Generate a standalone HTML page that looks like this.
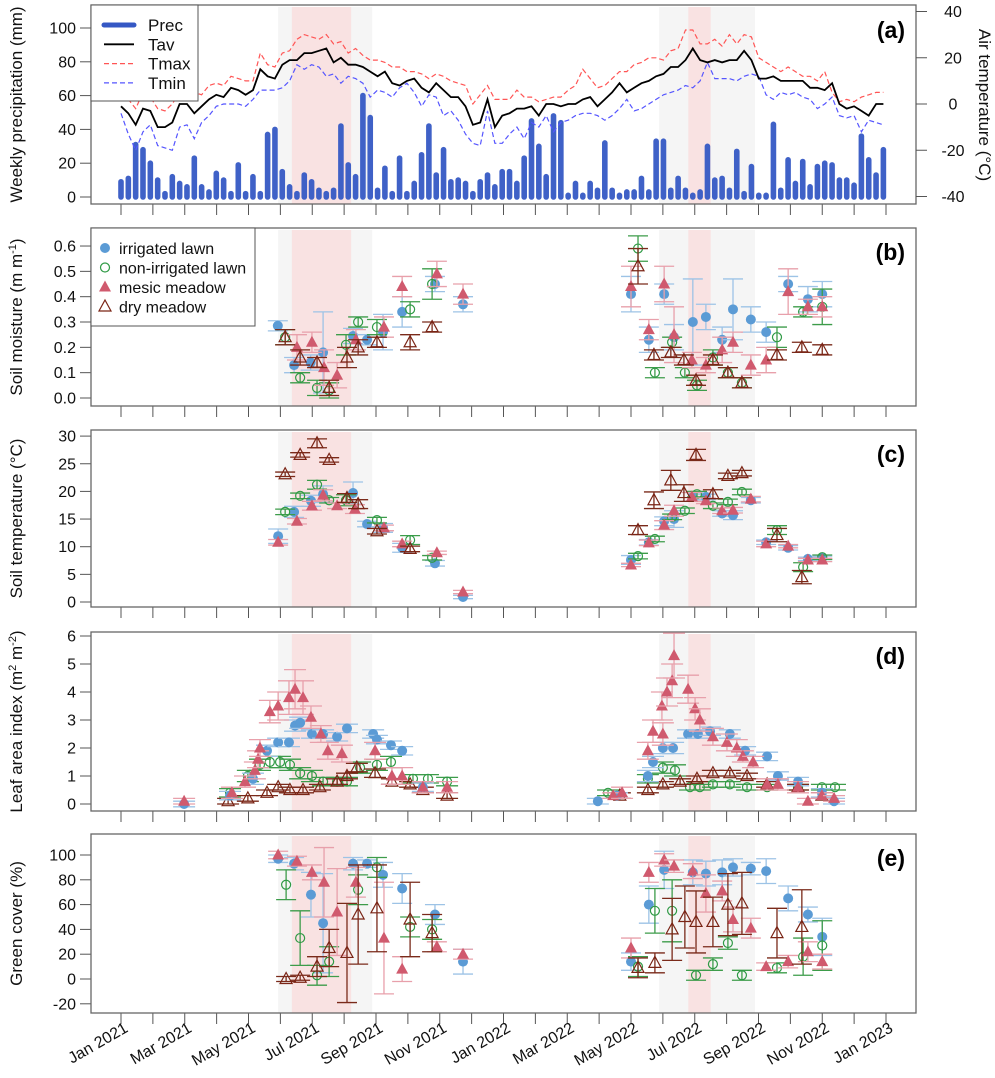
<!DOCTYPE html>
<html><head><meta charset="utf-8"><style>
html,body{margin:0;padding:0;background:#fff;}
svg{display:block;font-family:"Liberation Sans",Arial,sans-serif;}
</style></head><body>
<svg id="chart" width="995" height="1078" viewBox="0 0 995 1078" xmlns="http://www.w3.org/2000/svg"></svg>
<script>
// ---------- data ----------
const monthLabels=["Jan 2021","Mar 2021","May 2021","Jul 2021","Sep 2021","Nov 2021","Jan 2022","Mar 2022","May 2022","Jul 2022","Sep 2022","Nov 2022","Jan 2023"];
const precip=[9,11,31,28,20,10,2,12,8,6,23,6,3,14,10,2,19,2,12,2,37,40,15,6,2,13,9,4,2,4,42,19,12,60,47,4,17,2,23,2,8,25,42,13,28,9,10,8,2,9,13,6,15,
15,8,23,45,30,12,48,44,1,8,1,8,4,32,4,1,3,3,11,3,33,33,4,11,4,1,3,30,10,11,4,27,2,18,1,1,43,4,22,8,21,6,18,20,19,10,10,7,36,22,13,28];
const tav=[-1,-4,-9,-2,-3,-10,-10,-8,0,0,-4,-1,2,4,3,7,6,4,6,15,12,11,17,19,19,22,22,23,24,18,20,17,17,16,14,12,14,9,8,10,11,7,5,9,6,3,3,-1,-9,-8,2,-10,
-5,-4,-2,-2,-1,-5,0,0,-1,0,0,2,3,-1,2,5,9,5,7,9,10,12,13,16,16,19,24,19,18,19,18,19,19,23,19,11,11,12,10,10,10,10,7,7,6,9,0,-2,-1,-3,-5,0,0];
const tmax=[4,2,-2,5,3,-2,-3,0,5,6,5,4,8,9,8,12,11,10,10,22,17,16,22,23,28,30,29,28,30,26,27,22,24,21,19,19,18,16,16,14,14,13,11,13,12,10,9,8,0,4,8,2,
2,2,6,3,3,1,2,3,3,6,8,15,11,7,8,11,14,14,17,18,20,20,19,23,24,32,32,26,26,28,25,30,26,30,29,20,18,16,14,16,14,12,12,10,14,5,1,2,1,3,4,5,5];
const tmin=[-4,-13,-20,-12,-9,-18,-19,-20,-10,-9,-15,-8,-5,-1,0,0,0,-1,2,6,6,6,7,10,17,15,17,16,12,13,9,12,11,9,3,6,5,3,7,9,5,-1,4,3,-5,-3,-7,-13,-17,-18,-3,-17,
-17,-13,-10,-15,-8,-10,-5,-12,-8,-7,-5,-4,-4,-5,-7,-5,-2,2,-3,-2,0,2,4,5,6,8,7,10,18,11,11,11,10,12,13,12,4,2,5,4,5,3,2,-2,0,3,-5,-6,-5,-12,-7,-8,-9];

// panel b soil moisture
const bIrrX=[4.92,5.43,5.95,6.34,7.28,7.72,8.22,8.82,9.85,10.73,16.0,16.56,17.04,17.35,17.94,18.35,18.86,19.2,19.76,20.24,20.93,21.55,22.0];
const bIrrY=[.285,.13,.14,.18,.245,.23,.26,.34,.45,.37,.41,.23,.41,.24,.30,.32,.23,.35,.31,.26,.45,.39,.41];
const bIrrE=[.02,.03,.03,.16,.03,.02,.07,.06,.03,.03,.07,.05,.04,.05,.17,.05,.05,.12,.05,.04,.03,.05,.05];
const bNonX=[5.15,5.62,6.15,6.53,7.06,7.44,8.03,9.07,9.76,16.22,16.75,17.29,17.69,18.07,18.57,19.04,19.48,20.58,21.4,22.0];
const bNonY=[.24,.08,.04,.03,.21,.30,.28,.35,.45,.59,.10,.22,.10,.05,.16,.10,.06,.24,.34,.36];
const bNonE=[.03,.02,.03,.03,.04,.02,.03,.03,.06,.05,.02,.02,.02,.02,.03,.02,.02,.04,.02,.07];
const bMesX=[5.52,5.99,6.37,6.78,7.37,8.25,8.82,9.91,10.73,16.0,16.56,17.04,17.35,17.91,18.35,18.86,19.2,19.76,20.24,20.93,21.55,22.0];
const bMesY=[.20,.22,.12,.09,.23,.28,.44,.49,.41,.44,.27,.45,.25,.15,.13,.19,.22,.13,.15,.42,.36,.36];
const bMesE=[.05,.04,.07,.05,.04,.04,.04,.05,.04,.08,.04,.07,.11,.03,.03,.05,.04,.04,.05,.09,.03,.04];
const bDryX=[5.15,5.62,6.15,6.53,7.09,7.44,8.03,9.07,9.76,16.22,16.72,17.25,17.66,18.04,18.57,19.04,19.48,20.58,21.36,22.0];
const bDryY=[.24,.16,.14,.04,.16,.20,.22,.22,.28,.52,.17,.18,.15,.07,.15,.10,.06,.17,.20,.19];
const bDryE=[.03,.03,.02,.03,.04,.03,.02,.03,.02,.07,.02,.02,.02,.02,.02,.02,.02,.02,.02,.02];

// panel c soil temperature
const cIrrX=[4.93,5.43,5.96,6.34,7.28,7.72,8.22,8.82,9.85,10.73,16.0,16.56,17.04,17.35,17.94,18.35,18.86,19.2,19.76,20.24,20.93,21.55,22.0];
const cIrrY=[11.9,16.3,18.3,19.5,19.7,14.1,13.4,9.8,7.0,0.9,7.6,10.8,14.6,15,19,19,16,15.7,18.4,10.8,9.8,7.8,8];
const cIrrE=[1.3,1,1,1.5,2,.5,.8,.8,.5,.3,.8,.5,.8,1.5,.8,.5,.5,.8,.5,.4,.4,.3,.3];
const cNonX=[5.15,5.62,6.15,6.53,7.06,8.03,9.07,9.76,16.22,16.75,17.29,17.69,18.07,18.57,19.04,19.48,20.58,21.4,22.0];
const cNonY=[16.3,19.2,21.2,18.4,18.4,14.8,11.2,8,8.3,11.4,15.4,16.5,19.5,17.4,18.1,19.9,13,6.3,8.1];
const cNonE=[.5,.5,.8,.5,1,.5,.8,.4,.5,.5,.5,.5,.5,.5,.5,.5,.8,.8,.4];
const cMesX=[4.93,5.52,5.99,6.34,6.78,7.34,8.25,8.82,9.91,10.73,16.0,16.56,17.04,17.35,17.91,18.35,18.86,19.2,19.76,20.24,20.93,21.55,22.0];
const cMesY=[10.8,14.6,17.4,19.3,17.4,16.8,13.4,10.5,8.9,1.8,6.7,10.7,13.9,16.5,19,18.3,16.5,16.6,18.6,10.5,10.1,7.6,7.6];
const cMesE=[.5,.5,.8,1,.5,.8,.5,.5,.3,.3,.3,.5,.8,1,.8,.5,.5,.5,.5,.5,.3,.3,.3];
const cDryX=[5.15,5.62,6.15,6.53,7.09,7.44,8.03,9.07,16.22,16.72,17.25,17.66,18.04,18.57,19.04,19.48,20.58,21.36];
const cDryY=[23.1,26.6,28.7,25.7,18.8,17.7,12.8,9.6,13,18.4,22,19.7,26.6,19.5,22.8,23.3,12.1,4.5];
const cDryE=[.4,.4,.8,.4,.8,.8,.5,.5,.8,1.5,1.8,1.5,1,.8,.5,.5,1.2,1.2];

// panel d leaf area index
const dIrrX=[1.98,3.42,4.14,4.58,4.93,5.27,5.46,5.62,5.99,6.34,6.78,7.09,7.91,8.03,8.47,8.82,9.47,14.96,15.56,16.53,16.69,17.0,17.32,17.79,18.1,18.48,19.1,19.58,20.27,20.61,21.24,21.99,22.37];
const dIrrY=[0,.3,.9,1.9,2.2,2.2,2.8,2.9,2.5,2.5,2.4,2.7,2.5,2.3,2.1,1.9,.6,.1,.3,1,1.5,2,2,2.5,2.5,2.6,2.5,1.9,1.7,1,.8,.4,.1];
const dIrrE=[.1,.15,.2,.2,.15,.15,.2,.2,.15,.15,.15,.15,.15,.15,.15,.15,.15,.1,.1,.2,.2,.2,.2,.15,.15,.15,.15,.15,.15,.15,.15,.15,.1];
const dMesX=[1.98,3.48,3.89,4.2,4.3,4.36,4.67,4.93,5.27,5.46,5.71,5.96,6.27,6.49,6.93,7.97,8.5,8.82,9.47,10.23,15.44,15.72,16.53,16.69,17.0,16.97,17.13,17.29,17.35,17.79,18.01,18.16,18.57,19.01,19.32,19.51,19.83,20.27,20.61,21.24,21.55,21.99,22.37];
const dMesY=[.1,.4,.8,1.2,1.6,2.0,3.3,3.5,3.8,4.1,3.8,3.1,2.5,1.9,1.8,1.9,1.0,1.0,.6,.6,.3,.4,1.9,2.6,2.5,3.5,4.0,4.4,5.3,4.1,3.4,3.0,2.4,2.2,2.0,1.7,1.5,.7,.7,.6,.1,.3,.2];
const dMesE=[.1,.2,.2,.3,.3,.3,.4,.5,.6,.7,.6,.4,.3,.3,.3,.3,.3,.3,.2,.2,.1,.2,.3,.4,.4,.5,.5,.6,.8,.5,.4,.4,.3,.3,.3,.2,.2,.2,.2,.2,.1,.1,.1];
const dNonX=[3.42,3.98,4.36,4.67,4.99,5.3,5.62,5.99,6.34,6.78,7.09,7.5,8.03,8.47,9.16,9.63,10.23,15.28,16.53,17.0,17.38,17.85,18.16,18.57,19.1,19.64,20.27,21.24,21.99,22.4];
const dNonY=[.4,1,1.4,1.5,1.5,1.4,1.1,1,.8,.8,.8,1.3,1.4,1.5,.9,.9,.8,.4,.9,1.3,1.2,.6,.6,.7,.7,.6,.6,.6,.6,.6];
const dNonE=[.15,.2,.2,.2,.2,.2,.2,.2,.15,.15,.15,.2,.2,.2,.15,.15,.15,.1,.15,.2,.2,.1,.1,.1,.1,.1,.1,.1,.1,.1];
const dDryX=[3.36,3.98,4.58,4.93,5.3,5.71,6.24,6.78,7.09,7.4,7.97,8.5,9.07,9.47,10.23,15.65,16.53,17.0,17.54,18.07,18.57,19.1,19.64,20.27,21.24,21.99];
const dDryY=[.1,.2,.4,.6,.5,.5,.6,.8,1,1.3,1.1,.8,.7,.5,.3,.3,.5,.7,.8,.9,1.1,1.1,1,.7,.6,.3];
const dDryE=[.1,.1,.1,.1,.1,.1,.1,.1,.1,.15,.15,.1,.1,.1,.1,.1,.1,.1,.1,.1,.1,.1,.1,.1,.1,.1];

// panel e green cover
const eIrrX=[4.93,5.43,5.96,6.34,7.28,7.72,8.22,8.82,9.85,10.73,16.0,16.56,17.04,17.94,18.35,18.86,19.2,19.76,20.24,20.93,21.55,22.0];
const eIrrY=[97,93,68,45,93,93,84,73,52,14,14,60,88,86,85,86,90,89,87,65,52,34];
const eIrrE=[3,5,18,40,5,3,10,12,8,10,7,15,15,10,10,10,7,5,10,10,6,15];
const eNonX=[5.18,5.62,6.15,6.53,7.44,8.03,9.07,9.76,16.22,16.75,17.29,18.04,18.57,19.04,19.48,20.58,21.4,22.0];
const eNonY=[76,33,3,14,72,90,42,40,10,55,55,3,12,29,3,9,18,27];
const eNonE=[12,22,8,12,12,8,8,8,8,18,25,4,5,5,4,4,15,20];
const eMesX=[4.93,5.52,5.99,6.37,6.78,7.37,8.25,8.82,9.91,10.73,16.0,16.56,17.04,17.35,17.94,18.35,18.86,19.2,19.76,20.24,20.93,21.55,22.0];
const eMesY=[100,95,86,78,54,78,33,8,26,20,25,86,96,91,87,69,71,48,41,10,14,22,14];
const eMesE=[3,4,6,28,35,12,45,10,4,4,8,8,5,5,6,15,8,10,8,3,5,8,6];
const eDryX=[5.18,5.62,6.15,6.53,7.09,7.44,8.03,9.07,9.76,16.22,16.75,17.29,17.69,18.04,18.57,19.04,19.48,20.58,21.36];
const eDryY=[0,1,10,25,21,52,57,48,37,9,13,40,50,46,46,60,61,37,42];
const eDryE=[2,2,8,15,40,40,35,30,15,8,8,25,25,25,20,25,25,20,30];

// ---------- drawing ----------
const NS="http://www.w3.org/2000/svg";
const svg=document.getElementById('chart');
const L=91,R=916,X0=121,MW=31.875;
const xm=m=>X0+m*MW;
function mk(tag,attrs,parent){const e=document.createElementNS(NS,tag);for(const k in attrs)e.setAttribute(k,attrs[k]);(parent||svg).appendChild(e);return e;}
function txt(s,attrs,parent){const e=mk('text',attrs,parent);e.textContent=s;return e;}

const panels=[
 {id:'a',top:5,bot:204,y:v=>197-v*1.69,ticks:[0,20,40,60,80,100],fmt:v=>String(v)},
 {id:'b',top:228,bot:406,y:v=>398-v*253.3,ticks:[0,.1,.2,.3,.4,.5,.6],fmt:v=>v.toFixed(1)},
 {id:'c',top:430,bot:607,y:v=>602-v*5.53,ticks:[0,5,10,15,20,25,30],fmt:v=>String(v)},
 {id:'d',top:632,bot:811,y:v=>804-v*28,ticks:[0,1,2,3,4,5,6],fmt:v=>String(v)},
 {id:'e',top:834,bot:1013,y:v=>979-v*1.24,ticks:[-20,0,20,40,60,80,100],fmt:v=>String(v)}
];
const titles=["Weekly precipitation (mm)",null,"Soil temperature (°C)",null,"Green cover (%)"];

panels.forEach((p,pi)=>{
  const g=mk('g',{});
  
  
  [[4.93,7.88,'#f3f3f3'],[16.88,19.89,'#f3f3f3'],[5.36,7.22,'#f9dede'],[17.8,18.5,'#f9dede']].forEach((s,si)=>{
    const r=mk('rect',{x:xm(s[0]),y:p.top+2,width:xm(s[1])-xm(s[0]),height:p.bot-p.top-2,fill:s[2],'fill-opacity':0.85},g);
    
    
  });
  p.ticks.forEach(t=>{
    const ty=p.y(t);
    const tl=mk('line',{x1:80,x2:L,y1:ty,y2:ty,stroke:'#555','stroke-width':1},g);
    
    
    const lb=txt(p.fmt(t),{x:76,y:ty+5.5,'text-anchor':'end','font-size':16,fill:'#111'},g);
    
    
  });
  for(let m=0;m<=24;m++){
    const xl=mk('line',{x1:xm(m),x2:xm(m),y1:p.bot,y2:p.bot+11,stroke:'#555','stroke-width':1},g);
    
    
  }
  const fr=mk('rect',{x:L,y:p.top,width:R-L,height:p.bot-p.top,fill:'none',stroke:'#666','stroke-width':1.3},g);
  
  
  const pl=txt('('+p.id+')',{x:905,y:p.top+(p.id==='a'?33:32),'text-anchor':'end','font-size':23,'font-weight':'bold',fill:'#000'},g);
  
  
  const cy=(p.top+p.bot)/2;
  const yt=mk('text',{x:0,y:0,transform:`translate(22,${cy}) rotate(-90)`,'text-anchor':'middle','font-size':17,fill:'#111'},g);
  
  
  if(titles[pi]) yt.textContent=titles[pi];
  else if(p.id==='b'){yt.innerHTML='Soil moisture (m m<tspan dy="-6" font-size="11">-1</tspan><tspan dy="6">)</tspan>';}
  else {yt.innerHTML='Leaf area index  (m<tspan dy="-6" font-size="11">2</tspan><tspan dy="6"> m</tspan><tspan dy="-6" font-size="11">-2</tspan><tspan dy="6">)</tspan>';}
  p.g=g;
});

const pa=panels[0];
const ta=t=>104-t*2.3125;
const wkM=i=>i*7/30.4375;
precip.forEach((v,i)=>{
  const b=mk('line',{x1:xm(wkM(i)),x2:xm(wkM(i)),y1:pa.y(0),y2:pa.y(v),stroke:'#3558c4','stroke-width':5.6,'stroke-linecap':'round','stroke-opacity':0.95},pa.g);
  
  
});
function tline(arr,col,dash,w,name){
  const d=arr.map((t,i)=>(i?'L':'M')+xm(wkM(i)).toFixed(1)+','+ta(t).toFixed(1)).join('');
  const pth=mk('path',{d:d,fill:'none',stroke:col,'stroke-width':w,'stroke-dasharray':dash||'none'},pa.g);
  
  
}
tline(tmax,'#ff5555','5,3',1.2,'tmax-line');
tline(tmin,'#5555ff','5,3',1.2,'tmin-line');
tline(tav,'#000','',1.8,'tav-line');
[-40,-20,0,20,40].forEach(t=>{
  const l=mk('line',{x1:R,x2:R+11,y1:ta(t),y2:ta(t),stroke:'#555','stroke-width':1},pa.g);
  
  
  const lb=txt(String(t),{x:953,y:ta(t)+5.5,'text-anchor':'middle','font-size':16,fill:'#111'},pa.g);
  
  
});
const rt=txt('Air temperature (°C)',{x:0,y:0,transform:'translate(979,105) rotate(90)','text-anchor':'middle','font-size':17,fill:'#111'},pa.g);


const lga=mk('g',{},pa.g);


const lbx=mk('rect',{x:L,y:5,width:107,height:96,fill:'#fff',stroke:'#555','stroke-width':1},lga);


[['Prec','#3558c4','',5],['Tav','#000','',1.8],['Tmax','#ff5555','5,3',1.2],['Tmin','#5555ff','5,3',1.2]].forEach((e,i)=>{
  const yy=25+i*19.3;
  const ln=mk('line',{x1:104,x2:134,y1:yy,y2:yy,stroke:e[1],'stroke-width':e[3],'stroke-dasharray':e[2]||'none','stroke-linecap':i==0?'round':'butt'},lga);
  
  
  const t=txt(e[0],{x:148,y:yy+6,'font-size':17,fill:'#111'},lga);
  
  
});

const styles={
 irr:{col:'#5b9bd5',err:'#9dc3e6',shape:'circle',fill:true},
 non:{col:'#2f9a45',err:'#3d9c4a',shape:'circle',fill:false},
 mes:{col:'#d05a6e',err:'#e8a0ab',shape:'tri',fill:true},
 dry:{col:'#7a2415',err:'#7a2a1a',shape:'tri',fill:false}
};
function symbol(g,x,y,st){
  let e;
  if(st.shape==='circle') e=mk('circle',{cx:x,cy:y,r:st.fill?5:4.5,fill:st.fill?st.col:'none',stroke:st.col,'stroke-width':st.fill?0:1.2},g);
  else e=mk('path',{d:`M${x},${y-6.5}L${x+6},${y+4.5}L${x-6},${y+4.5}Z`,fill:st.fill?st.col:'none',stroke:st.col,'stroke-width':st.fill?0:1.2},g);
  return e;
}
function series(p,xs,ys,es,key,cap){
  const st=styles[key];
  const g=mk('g',{},p.g);
  
  
  xs.forEach((m,i)=>{
    const x=xm(m),y=p.y(ys[i]),y1=p.y(ys[i]-es[i]),y2=p.y(ys[i]+es[i]);
    const el=mk('path',{d:`M${x},${y1}L${x},${y2}M${x-cap},${y1}L${x+cap},${y1}M${x-cap},${y2}L${x+cap},${y2}`,stroke:st.err,'stroke-width':1.3,fill:'none'},g);
    
    
    const s=symbol(g,x,y,st);
    
    
  });
}
const pb=panels[1],pc=panels[2],pd=panels[3],pe=panels[4];
series(pb,bIrrX,bIrrY,bIrrE,'irr',10);series(pb,bNonX,bNonY,bNonE,'non',10);series(pb,bMesX,bMesY,bMesE,'mes',10);series(pb,bDryX,bDryY,bDryE,'dry',10);
series(pc,cIrrX,cIrrY,cIrrE,'irr',10);series(pc,cNonX,cNonY,cNonE,'non',10);series(pc,cMesX,cMesY,cMesE,'mes',10);series(pc,cDryX,cDryY,cDryE,'dry',10);
series(pd,dNonX,dNonY,dNonE,'non',11);series(pd,dDryX,dDryY,dDryE,'dry',11);series(pd,dIrrX,dIrrY,dIrrE,'irr',11);series(pd,dMesX,dMesY,dMesE,'mes',11);
series(pe,eIrrX,eIrrY,eIrrE,'irr',10);series(pe,eNonX,eNonY,eNonE,'non',10);series(pe,eMesX,eMesY,eMesE,'mes',10);series(pe,eDryX,eDryY,eDryE,'dry',10);

const lgb=mk('g',{},pb.g);


const lbb=mk('rect',{x:L,y:228,width:164,height:98,fill:'#fff',stroke:'#555','stroke-width':1},lgb);


[['irrigated lawn','irr'],['non-irrigated lawn','non'],['mesic meadow','mes'],['dry meadow','dry']].forEach((e,i)=>{
  const yy=248+i*19.5;
  const s=symbol(lgb,105,yy,styles[e[1]]);
  
  
  const t=txt(e[0],{x:119,y:yy+6,'font-size':16,fill:'#111'},lgb);
  
  
});

monthLabels.forEach((s,i)=>{
  const x=xm(i*2)+8,y=1031;
  const t=txt(s,{x:x,y:y,'text-anchor':'end','font-size':16,fill:'#111',transform:`rotate(-30,${x},${y})`});
  
  
});
</script>
</body></html>
